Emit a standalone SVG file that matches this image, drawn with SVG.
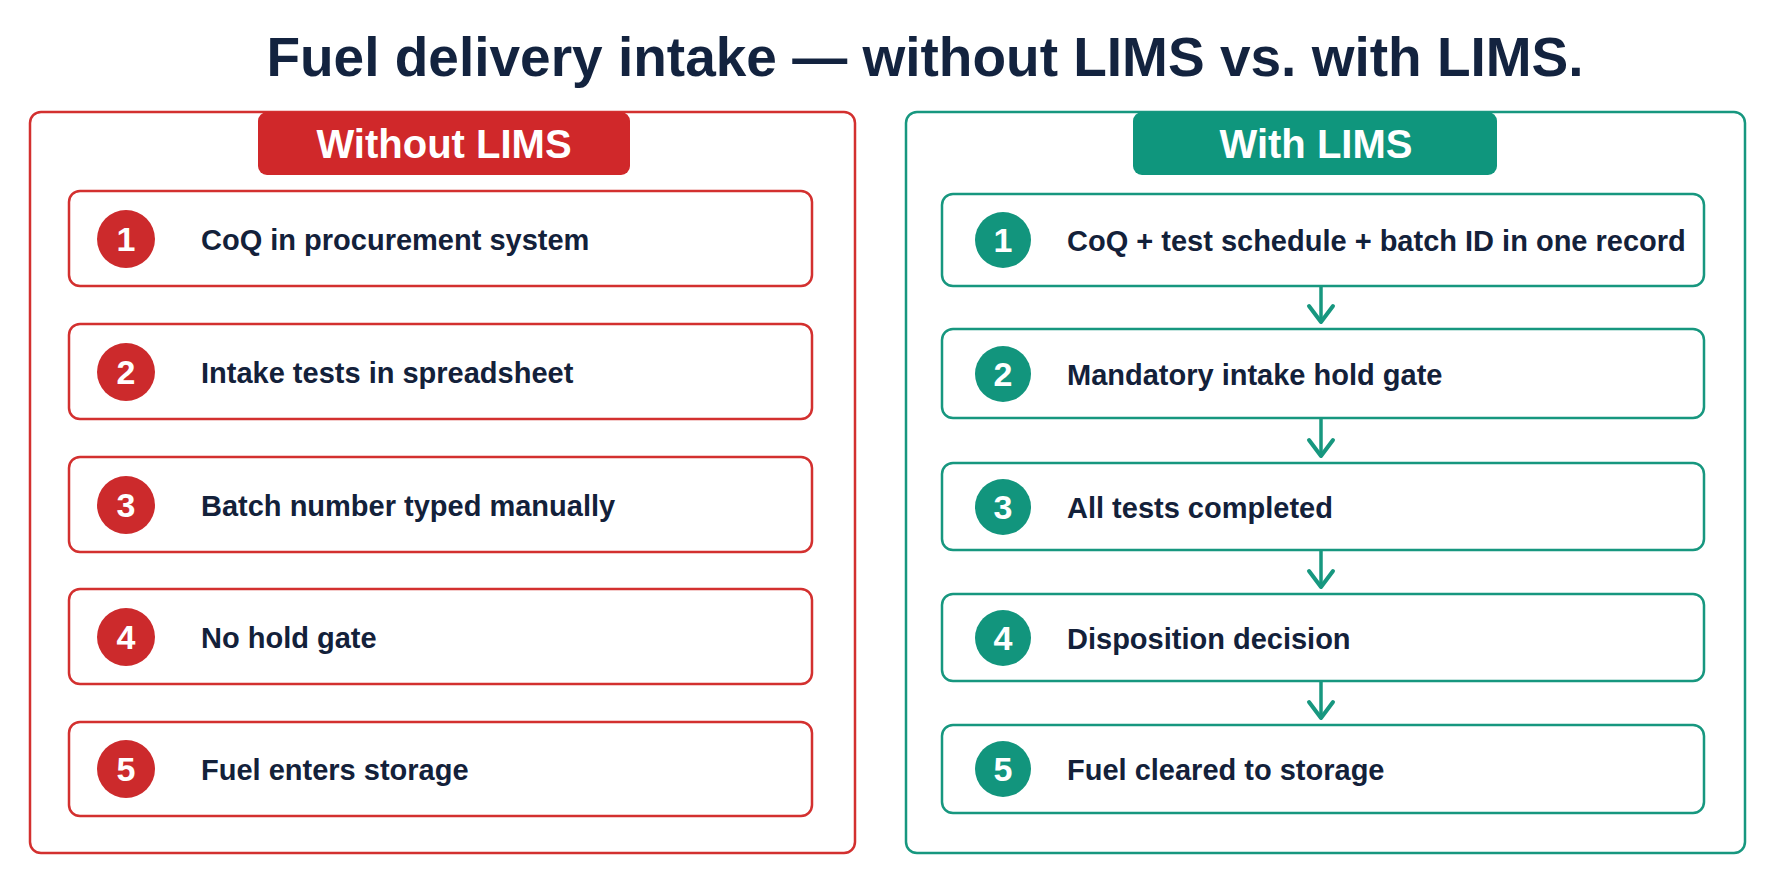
<svg xmlns="http://www.w3.org/2000/svg" width="1774" height="887" viewBox="0 0 1774 887">
<style>
.title{font-family:"Liberation Sans",Arial,sans-serif;font-weight:700;font-size:55px;fill:#13233f}
.badge-t{font-family:"Liberation Sans",Arial,sans-serif;font-weight:700;font-size:40px;fill:#ffffff}
.step{font-family:"Liberation Sans",Arial,sans-serif;font-weight:700;font-size:29px;fill:#13213a}
.num{font-family:"Liberation Sans",Arial,sans-serif;font-weight:700;font-size:34px;fill:#ffffff}
.panel-red{fill:#ffffff;stroke:#d3302f;stroke-width:2.5}
.panel-teal{fill:#ffffff;stroke:#17977f;stroke-width:2.5}
.box-red{fill:#ffffff;stroke:#d3302f;stroke-width:2.5}
.box-teal{fill:#ffffff;stroke:#17977f;stroke-width:2.5}
.c-red{fill:#cc2a2c}
.c-teal{fill:#12957d}
.arrow{stroke:#17977f;stroke-width:3.5;fill:none}
</style>
<defs>
<marker id="chev" viewBox="-3 -16 23 32" refX="16" refY="0" markerWidth="23" markerHeight="32" markerUnits="userSpaceOnUse" orient="auto">
<path d="M0,-12 L16,0 L0,12" fill="none" stroke="#17977f" stroke-width="4" stroke-linecap="round" stroke-linejoin="round"/>
</marker>
</defs>
<rect width="1774" height="887" fill="#ffffff"/>
<text class="title" x="925" y="76" text-anchor="middle">Fuel delivery intake — without LIMS vs. with LIMS.</text>

<g id="panel-without">
<rect class="panel-red" x="30" y="112" width="825" height="741" rx="11"/>
<rect x="258" y="112" width="372" height="63" rx="9" fill="#d0282a"/>
<text class="badge-t" x="444" y="158" text-anchor="middle">Without LIMS</text>
</g>
<g id="without-1">
<rect class="box-red" x="69" y="191" width="743" height="95" rx="11"/>
<circle class="c-red" cx="126" cy="239" r="29"/>
<text class="num" x="126" y="251" text-anchor="middle">1</text>
<text class="step" x="201" y="250">CoQ in procurement system</text>
</g>
<g id="without-2">
<rect class="box-red" x="69" y="324" width="743" height="95" rx="11"/>
<circle class="c-red" cx="126" cy="372" r="29"/>
<text class="num" x="126" y="384" text-anchor="middle">2</text>
<text class="step" x="201" y="383">Intake tests in spreadsheet</text>
</g>
<g id="without-3">
<rect class="box-red" x="69" y="457" width="743" height="95" rx="11"/>
<circle class="c-red" cx="126" cy="505" r="29"/>
<text class="num" x="126" y="517" text-anchor="middle">3</text>
<text class="step" x="201" y="516">Batch number typed manually</text>
</g>
<g id="without-4">
<rect class="box-red" x="69" y="589" width="743" height="95" rx="11"/>
<circle class="c-red" cx="126" cy="637" r="29"/>
<text class="num" x="126" y="649" text-anchor="middle">4</text>
<text class="step" x="201" y="648">No hold gate</text>
</g>
<g id="without-5">
<rect class="box-red" x="69" y="722" width="743" height="94" rx="11"/>
<circle class="c-red" cx="126" cy="769" r="29"/>
<text class="num" x="126" y="781" text-anchor="middle">5</text>
<text class="step" x="201" y="780">Fuel enters storage</text>
</g>

<g id="panel-with">
<rect class="panel-teal" x="906" y="112" width="839" height="741" rx="11"/>
<rect x="1133" y="112" width="364" height="63" rx="9" fill="#0f967d"/>
<text class="badge-t" x="1316" y="158" text-anchor="middle">With LIMS</text>
</g>
<g id="with-1">
<rect class="box-teal" x="942" y="194" width="762" height="92" rx="11"/>
<circle class="c-teal" cx="1003" cy="240" r="28"/>
<text class="num" x="1003" y="252" text-anchor="middle">1</text>
<text class="step" x="1067" y="251">CoQ + test schedule + batch ID in one record</text>
</g>
<g id="with-2">
<rect class="box-teal" x="942" y="329" width="762" height="89" rx="11"/>
<circle class="c-teal" cx="1003" cy="374" r="28"/>
<text class="num" x="1003" y="386" text-anchor="middle">2</text>
<text class="step" x="1067" y="385">Mandatory intake hold gate</text>
</g>
<g id="with-3">
<rect class="box-teal" x="942" y="463" width="762" height="87" rx="11"/>
<circle class="c-teal" cx="1003" cy="507" r="28"/>
<text class="num" x="1003" y="519" text-anchor="middle">3</text>
<text class="step" x="1067" y="518">All tests completed</text>
</g>
<g id="with-4">
<rect class="box-teal" x="942" y="594" width="762" height="87" rx="11"/>
<circle class="c-teal" cx="1003" cy="638" r="28"/>
<text class="num" x="1003" y="650" text-anchor="middle">4</text>
<text class="step" x="1067" y="649">Disposition decision</text>
</g>
<g id="with-5">
<rect class="box-teal" x="942" y="725" width="762" height="88" rx="11"/>
<circle class="c-teal" cx="1003" cy="769" r="28"/>
<text class="num" x="1003" y="781" text-anchor="middle">5</text>
<text class="step" x="1067" y="780">Fuel cleared to storage</text>
</g>

<g id="connectors">
<line class="arrow" x1="1321" y1="287" x2="1321" y2="322" marker-end="url(#chev)"/>
<line class="arrow" x1="1321" y1="419" x2="1321" y2="456" marker-end="url(#chev)"/>
<line class="arrow" x1="1321" y1="551" x2="1321" y2="587" marker-end="url(#chev)"/>
<line class="arrow" x1="1321" y1="682" x2="1321" y2="718" marker-end="url(#chev)"/>
</g>
</svg>
